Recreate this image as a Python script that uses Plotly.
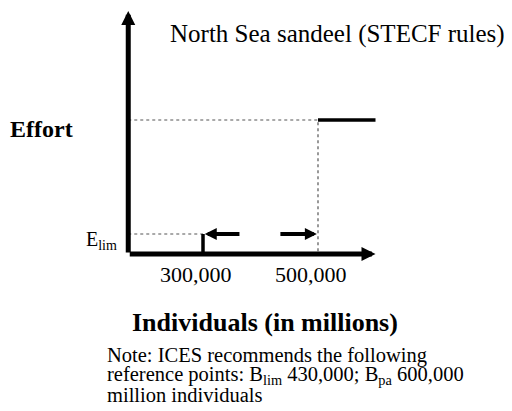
import plotly.graph_objects as go

# ---- schematic values (data units) ----
thresholds = [300000, 500000]          # biomass trigger points (individuals, millions)
tick_labels = ["300,000", "500,000"]
effort_levels = [1.0, 6.7]             # E_lim and full effort (arbitrary units)
axis_x = [170000, 600000]              # x-axis extent
axis_y = [0.0, 12.15]                  # y-axis extent
arrow_left = [366000, 303000]          # "move left" arrow (from, to)
arrow_right = [432000, 498000]         # "move right" arrow (from, to)

title_text = "North Sea sandeel (STECF rules)"
y_title = "Effort"
x_title = "Individuals (in millions)"
note_lines = [
    "Note: ICES recommends the following",
    "reference points: B<sub>lim</sub> 430,000; B<sub>pa</sub> 600,000",
    "million individuals",
]

# page body has an 8px margin: figure is placed at (8, 8) in the window
OFF = 8
W, H = 512 - OFF, 411 - OFF
SERIF = "Liberation Serif, Times New Roman, serif"

fig = go.Figure()

e_lim, e_high = effort_levels
t1, t2 = thresholds
x0, x1 = axis_x

# dotted guide lines
fig.add_trace(go.Scatter(x=[x0, t2, t2], y=[e_high, e_high, 0], mode="lines",
                         line=dict(color="#555555", width=1.2, dash="dot"), hoverinfo="skip"))
fig.add_trace(go.Scatter(x=[x0, t1], y=[e_lim, e_lim], mode="lines",
                         line=dict(color="#555555", width=1.2, dash="dot"), hoverinfo="skip"))
# solid rule segments
fig.add_trace(go.Scatter(x=[t1, t1], y=[0, e_lim], mode="lines",
                         line=dict(color="black", width=3.5), hoverinfo="skip"))
fig.add_trace(go.Scatter(x=[t2, x1], y=[e_high, e_high], mode="lines",
                         line=dict(color="black", width=3.5), hoverinfo="skip"))

annotations = []
# axes with arrowheads
annotations.append(dict(x=x0, y=axis_y[1], ax=x0, ay=axis_y[0], xref="x", yref="y",
                        axref="x", ayref="y", text="", showarrow=True, arrowhead=2,
                        arrowsize=0.56, arrowwidth=5, arrowcolor="black", standoff=0))
annotations.append(dict(x=x1, y=axis_y[0], ax=x0, ay=axis_y[0], xref="x", yref="y",
                        axref="x", ayref="y", text="", showarrow=True, arrowhead=2,
                        arrowsize=0.56, arrowwidth=5, arrowcolor="black", standoff=0))
# movement arrows
for a in (arrow_left, arrow_right):
    annotations.append(dict(x=a[1], y=e_lim, ax=a[0], ay=e_lim, xref="x", yref="y",
                            axref="x", ayref="y", text="", showarrow=True, arrowhead=2,
                            arrowsize=0.6, arrowwidth=4, arrowcolor="black", standoff=0))

# tick labels
for xv, lab in zip(thresholds, tick_labels):
    annotations.append(dict(x=xv - 12000, y=-1.0, xref="x", yref="y", text=lab, showarrow=False,
                            xanchor="center", yanchor="middle",
                            font=dict(family=SERIF, size=22, color="black")))

def px(x, y):
    # window pixel -> paper coordinates
    return (x - OFF) / W, 1 - (y - OFF) / H

tx, ty = px(168, 34)
annotations.append(dict(x=tx, y=ty, xref="paper", yref="paper", text=title_text, showarrow=False,
                        xanchor="left", yanchor="middle", font=dict(family=SERIF, size=25, color="black")))
tx, ty = px(8, 129)
annotations.append(dict(x=tx, y=ty, xref="paper", yref="paper", text="<b>" + y_title + "</b>",
                        showarrow=False, xanchor="left", yanchor="middle",
                        font=dict(family=SERIF, size=24, color="black")))
tx, ty = px(84, 240)
annotations.append(dict(x=tx, y=ty, xref="paper", yref="paper", text="E<sub>lim</sub>",
                        showarrow=False, xanchor="left", yanchor="middle",
                        font=dict(family=SERIF, size=20, color="black")))
tx, ty = px(130, 322)
annotations.append(dict(x=tx, y=ty, xref="paper", yref="paper", text="<b>" + x_title + "</b>",
                        showarrow=False, xanchor="left", yanchor="middle",
                        font=dict(family=SERIF, size=26, color="black")))
for i, line in enumerate(note_lines):
    tx, ty = px(105, 355 + 20 * i)
    annotations.append(dict(x=tx, y=ty, xref="paper", yref="paper", text=line,
                            showarrow=False, xanchor="left", yanchor="middle",
                            font=dict(family=SERIF, size=20.5, color="black")))

# pixel-aligned ranges (window px): 300,000 -> x=203, 500,000 -> x=318 ; effort 0 -> y=254, 1 -> y=234
px_per_x = 115 / (t2 - t1)
x_left = t1 - (203 - OFF) / px_per_x
x_right = x_left + W / px_per_x
px_per_y = 20.0
y_top = (254 - OFF) / px_per_y
y_bottom = -(H - (254 - OFF)) / px_per_y

fig.update_layout(
    width=W, height=H,
    margin=dict(l=0, r=0, t=0, b=0),
    paper_bgcolor="white", plot_bgcolor="white",
    showlegend=False,
    xaxis=dict(range=[x_left, x_right], visible=False, fixedrange=True),
    yaxis=dict(range=[y_bottom, y_top], visible=False, fixedrange=True),
    annotations=annotations,
)

fig.write_html("out.html")
